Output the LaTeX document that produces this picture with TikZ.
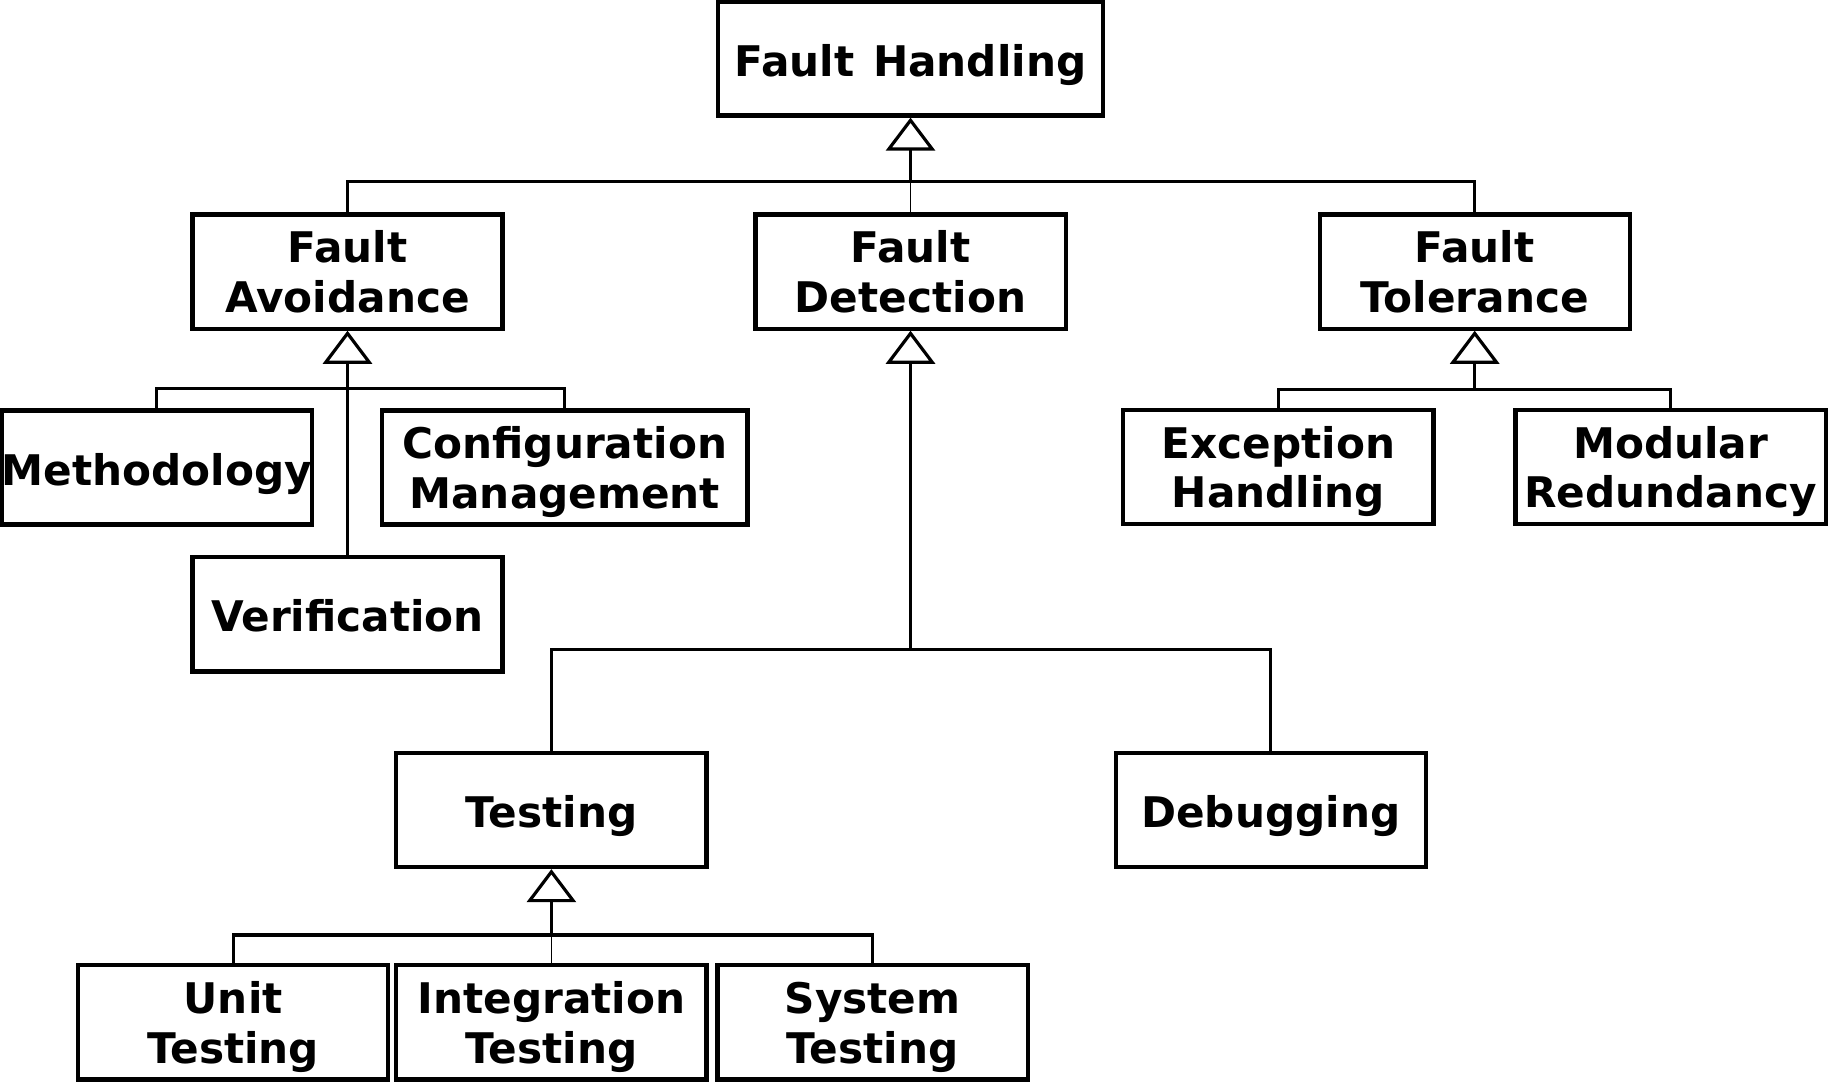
\documentclass[tikz,border=0pt]{standalone}
\usepackage{fontspec}
\setmainfont{DejaVu Sans}
\usetikzlibrary{arrows.meta}

\begin{document}
\begin{tikzpicture}[x=0.01cm, y=-0.01cm,
    block/.style={draw, line width=1.2pt, minimum width=3.1cm, minimum height=1.14cm,
        inner sep=0pt, align=center, text height=23.3pt, text depth=0pt,
        font=\fontsize{12}{14.2}\selectfont\bfseries},
    single/.style={text height=10pt, text depth=0pt},
    gen/.style={-{Triangle[open, length=3.3mm, width=4.9mm]}, line width=0.9pt},
    link/.style={line width=0.9pt},
    thin link/.style={line width=0.45pt}]
    \useasboundingbox (0,0) rectangle (1828,1082);

    % Root
    \node[block, single, minimum width=3.85cm] (handling) at (910.5,58.5) {Fault\hspace{0.1em} Handling};

    % Second level
    \node[block] (avoid) at (347.5,271.6) {Fault\\Avoidance};
    \node[block] (detect) at (910.5,271.6) {Fault\\Detection};
    \node[block] (toler) at (1474.7,271.6) {Fault\\Tolerance};

    % Avoidance children
    \node[block, single] (method) at (156.8,467.5) {Methodology};
    \node[block, minimum width=3.65cm] (config) at (564.8,467.5) {Configuration\\Management};
    \node[block, single] (verif) at (347.5,614.4) {Verification};

    % Tolerance children
    \node[block] (except) at (1278.3,467) {Exception\\Handling};
    \node[block] (modular) at (1670.6,467) {Modular\\Redundancy};

    % Detection children
    \node[block, single] (testing) at (551.4,810) {Testing};
    \node[block, single] (debug) at (1270.7,810) {Debugging};

    % Testing children
    \node[block] (unit) at (233.2,1022.4) {Unit\\Testing};
    \node[block] (integ) at (551.4,1022.4) {Integration\\Testing};
    \node[block] (system) at (872.6,1022.4) {System\\Testing};

    % Junctions
    \coordinate (jHandling) at (910.5,181.9);
    \coordinate (jAvoid) at (347.5,388.2);
    \coordinate (jDetect) at (910.5,649.4);
    \coordinate (jToler) at (1474.7,389.4);
    \coordinate (jTesting) at (551.4,935);

    % Generalisation links
    \draw[gen] (jHandling) -- (handling.south);
    \draw[link] (avoid.north) |- (jHandling);
    \draw[link] (toler.north) |- (jHandling);
    \draw[thin link] (detect.north) -- (jHandling);

    \draw[gen] (jAvoid) -- (avoid.south);
    \draw[link] (method.north) |- (jAvoid);
    \draw[link] (config.north) |- (jAvoid);
    \draw[link] (verif.north) -- (jAvoid);

    \draw[gen] (jToler) -- (toler.south);
    \draw[link] (except.north) |- (jToler);
    \draw[link] (modular.north) |- (jToler);

    \draw[gen] (jDetect) -- (detect.south);
    \draw[link] (testing.north) |- (jDetect);
    \draw[link] (debug.north) |- (jDetect);

    \draw[gen] (jTesting) -- (testing.south);
    \draw[link] (unit.north) |- (jTesting);
    \draw[link] (system.north) |- (jTesting);
    \draw[thin link] (integ.north) -- (jTesting);
\end{tikzpicture}
\end{document}
